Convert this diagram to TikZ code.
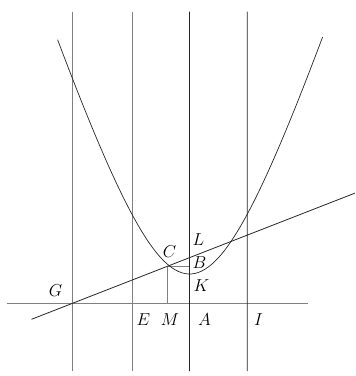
\documentclass[tikz,border=0pt]{standalone}
\usetikzlibrary{positioning}

\begin{document}
\begin{tikzpicture}[x=1pt,y=-1pt,line width=0.8pt,
  gline/.style={draw=black!50},
  bline/.style={draw=black!85},
  lab/.style={inner sep=0pt,font=\fontsize{17}{17}\selectfont}]
\useasboundingbox (0,0) rectangle (356,376);
% points on the base line and the figure
\coordinate (G) at (72.5,303.3);
\coordinate (E) at (132,303.3);
\coordinate (M) at (167.5,303.3);
\coordinate (A) at (189.5,303.3);
\coordinate (I) at (247.3,303.3);
\coordinate (C) at (167.5,266.5);
\coordinate (B) at (189.5,266.5);
% ends of the lines
\coordinate (Gt) at (72.5,11.5);  \coordinate (Gb) at (72.5,371);
\coordinate (Et) at (132,11.5);   \coordinate (Eb) at (132,371);
\coordinate (At) at (189.5,11.5); \coordinate (Ab) at (189.5,371);
\coordinate (It) at (247.3,11.5); \coordinate (Ib) at (247.3,371);
\coordinate (h0) at (7,303.3);    \coordinate (h1) at (308,303.3);
\coordinate (o0) at (31.5,319.3); \coordinate (o1) at (355,193.1);
\draw[gline] (Gt)--(Gb) (Et)--(Eb) (h0)--(h1) (C)--(M) (C)--(B);
\draw[bline] (At)--(Ab) (It)--(Ib) (o0)--(o1);
% the curve
\draw[bline,line width=0.7pt] plot[domain=-13.2:13.3,samples=80,smooth]
  ({189.6+10*\x},{274-30.5*(sqrt(56.25+\x*\x)-7.5)});
% letters
\node[lab] (lG) at (55.5,290.5) {$G$};
\node[lab] (lE) at (143.5,320) {$E$};
\node[lab] (lM) at (170,319.5) {$M$};
\node[lab] (lA) at (204.5,319.5) {$A$};
\node[lab] (lI) at (258.5,319.5) {$I$};
\node[lab] (lC) at (169.5,251.5) {$C$};
\node[lab] (lL) at (198.5,240) {$L$};
\node[lab] (lB) at (199.5,263) {$B$};
\node[lab] (lK) at (201.5,286) {$K$};
\end{tikzpicture}
\end{document}
